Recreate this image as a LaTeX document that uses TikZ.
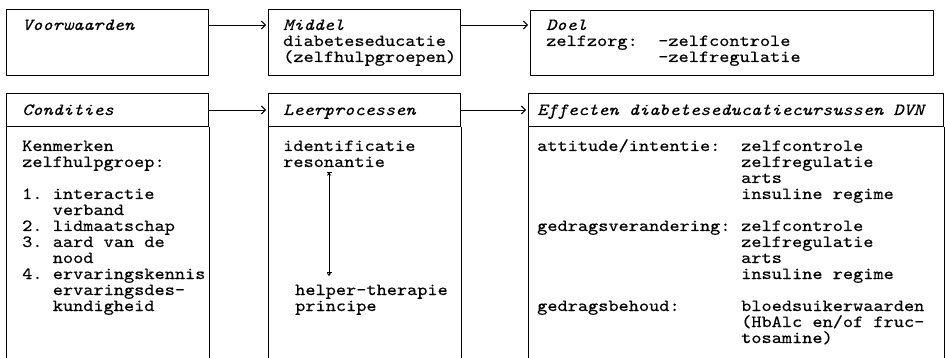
\documentclass[tikz,border=0pt]{standalone}
\usepackage{fontspec}
\setmonofont{lmmono10-regular.otf}[ItalicFont=lmmono10-italic.otf, FakeStretch=1.14, FakeBold=0.4]
\usetikzlibrary{arrows.meta}
\tikzset{
  txt/.style={anchor=base west, inner sep=0pt, font=\ttfamily\fontsize{17}{16}\selectfont},
  hd/.style={txt, font=\ttfamily\fontsize{17}{16}\selectfont\itshape},
  boxline/.style={line width=1pt},
  conn/.style={line width=0.9pt, -{Straight Barb[length=4pt,width=8pt,line width=0.9pt]}, shorten >=2pt},
  dbl/.style={line width=0.7pt, {Bar[width=5pt] Stealth[length=3pt,width=4.5pt]}-{Bar[width=5pt] Stealth[length=3pt,width=4.5pt]}}
}
\begin{document}
\begin{tikzpicture}[x=1pt,y=-1pt]
\useasboundingbox (0,0) rectangle (945,358);
% top row boxes
\node[draw, boxline, anchor=north west, minimum width=202pt, minimum height=66pt, inner sep=0pt] (b1) at (6,9) {};
\node[draw, boxline, anchor=north west, minimum width=192pt, minimum height=66pt, inner sep=0pt] (b2) at (268,9) {};
\node[draw, boxline, anchor=north west, minimum width=403pt, minimum height=65pt, inner sep=0pt] (b3) at (530,10) {};
% bottom row headers
\node[draw, boxline, anchor=north west, minimum width=202pt, minimum height=33pt, inner sep=0pt] (h1) at (6,93) {};
\node[draw, boxline, anchor=north west, minimum width=192pt, minimum height=33pt, inner sep=0pt] (h2) at (268,93) {};
\node[draw, boxline, anchor=north west, minimum width=415pt, minimum height=33pt, inner sep=0pt] (h3) at (528,93) {};
\coordinate (bot) at (0,360);
\foreach \h in {h1,h2,h3}{
  \draw[boxline] (\h.south west) -- (\h.south west |- bot);
  \draw[boxline] (\h.south east) -- (\h.south east |- bot);
}
% connectors
\coordinate (ya) at (0,25);
\coordinate (yb) at (0,110);
\draw[conn] (b1.east |- ya) -- (b2.west |- ya);
\draw[conn] (b2.east |- ya) -- (b3.west |- ya);
\draw[conn] (h1.east |- yb) -- (h2.west |- yb);
\draw[conn] (h2.east |- yb) -- (h3.west |- yb);
% top row texts
\node[hd] (t1) at (22,30) {Voorwaarden};
\node[hd] (t2) at (283,30) {Middel};
\node[txt] (t3) at (283,46) {diabeteseducatie};
\node[txt] (t4) at (283,62) {(zelfhulpgroepen)};
\node[hd] (t5) at (546,30) {Doel};
\node[txt] (t6) at (546,46) {zelfzorg:};
\node[txt] (t7) at (658,46) {-zelfcontrole};
\node[txt] (t8) at (658,62) {-zelfregulatie};
% headers
\node[hd] (u1) at (22,115) {Condities};
\node[hd] (u2) at (283,115) {Leerprocessen};
\node[hd] (u3) at (537,115) {Effecten diabeteseducatiecursussen DVN};
% column 1
\node[txt] (k1) at (22,151) {Kenmerken};
\node[txt] (k2) at (22,167) {zelfhulpgroep:};
\node[txt] (k3) at (22,199) {1.};
\node[txt] (k4) at (52.6,199) {interactie};
\node[txt] (k5) at (52.6,215) {verband};
\node[txt] (k6) at (22,231) {2.};
\node[txt] (k7) at (52.6,231) {lidmaatschap};
\node[txt] (k8) at (22,247) {3.};
\node[txt] (k9) at (52.6,247) {aard van de};
\node[txt] (k10) at (52.6,263) {nood};
\node[txt] (k11) at (22,279) {4.};
\node[txt] (k12) at (52.6,279) {ervaringskennis};
\node[txt] (k13) at (52.6,295) {ervaringsdes-};
\node[txt] (k14) at (52.6,311) {kundigheid};
% column 2
\node[txt] (l1) at (283,151) {identificatie};
\node[txt] (l2) at (283,167) {resonantie};
\node[txt] (l3) at (295,295) {helper-therapie};
\node[txt] (l4) at (295,311) {principe};
\coordinate (v1) at (329,172);
\coordinate (v2) at (329,276);
\draw[dbl] (v1) -- (v2);
% column 3
\node[txt] (e1) at (537,151) {attitude/intentie:};
\node[txt] (e2) at (741,151) {zelfcontrole};
\node[txt] (e3) at (741,167) {zelfregulatie};
\node[txt] (e4) at (741,183) {arts};
\node[txt] (e5) at (741,199) {insuline regime};
\node[txt] (e6) at (537,231) {gedragsverandering:};
\node[txt] (e7) at (741,231) {zelfcontrole};
\node[txt] (e8) at (741,247) {zelfregulatie};
\node[txt] (e9) at (741,263) {arts};
\node[txt] (e10) at (741,279) {insuline regime};
\node[txt] (e11) at (537,311) {gedragsbehoud:};
\node[txt] (e12) at (741,311) {bloedsuikerwaarden};
\node[txt] (e13) at (741,327) {(HbAlc en/of fruc-};
\node[txt] (e14) at (741,343) {tosamine)};
\end{tikzpicture}
\end{document}
